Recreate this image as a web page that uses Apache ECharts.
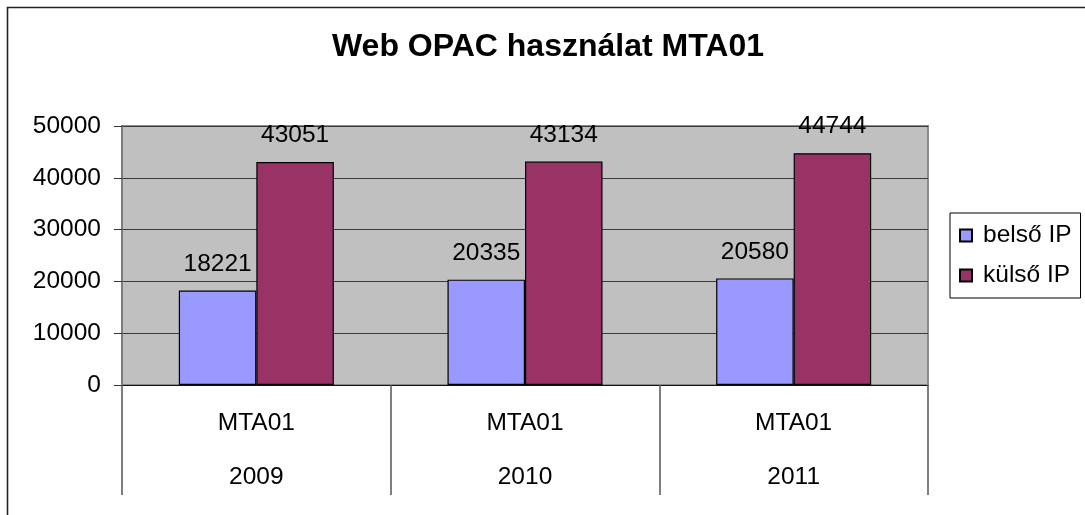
<!DOCTYPE html>
<html>
<head>
<meta charset="utf-8">
<script src="https://cdn.jsdelivr.net/npm/echarts@6/dist/echarts.min.js"></script>
<style>html,body{margin:0;padding:0;background:#fff}#c{width:1085px;height:515px}</style>
</head>
<body>
<div id="c"></div>
<script>
const titleText = 'Web OPAC használat MTA01';
const groupLabels = ['MTA01', 'MTA01', 'MTA01'];
const years = ['2009', '2010', '2011'];
const seriesNames = ['belső IP', 'külső IP'];
const belsoValues = [18221, 20335, 20580];
const kulsoValues = [43051, 43134, 44744];
const yTicks = [0, 10000, 20000, 30000, 40000, 50000];

const FONT = '"Liberation Sans", Arial, sans-serif';
const FS = 24.5;
const categories = years.map((y, i) => groupLabels[i] + '\n' + y);

const chart = echarts.init(document.getElementById('c'), null, {renderer: 'canvas'});
const labelCfg = {show: true, position: 'top', distance: 14, color: '#000', fontSize: FS, fontFamily: FONT};
chart.setOption({
  animation: false,
  backgroundColor: '#fff',
  textStyle: {fontFamily: FONT},
  title: {
    text: titleText,
    left: 548, top: 31, textAlign: 'center', padding: 0,
    textStyle: {fontSize: 32, fontWeight: 'bold', color: '#000', fontFamily: FONT}
  },
  graphic: [{
    type: 'rect', z: -1,
    shape: {x: 7.5, y: 7.5, width: 1300, height: 700},
    style: {fill: 'none', stroke: '#222', lineWidth: 1.6}
  }],
  legend: {
    orient: 'vertical',
    left: 950, top: 213,
    padding: [10, 9, 10, 9],
    itemGap: 15, itemWidth: 12, itemHeight: 12,
    icon: 'rect',
    borderColor: '#000', borderWidth: 1,
    data: seriesNames,
    textStyle: {fontSize: FS, color: '#000', fontFamily: FONT, padding: [0, 0, 0, 6]}
  },
  grid: {
    left: 122, right: 157, top: 126, bottom: 130,
    show: true, backgroundColor: '#C0C0C0', borderColor: '#8a8a8a', borderWidth: 2,
    containLabel: false
  },
  xAxis: {
    type: 'category',
    data: categories,
    axisLine: {show: true, lineStyle: {color: '#111', width: 1}},
    axisTick: {show: true, length: 110, lineStyle: {color: '#555', width: 1.5}},
    axisLabel: {color: '#000', fontSize: FS, fontFamily: FONT, lineHeight: 54, margin: 11}
  },
  yAxis: {
    type: 'value', min: yTicks[0], max: yTicks[yTicks.length - 1], interval: yTicks[1] - yTicks[0],
    axisLine: {show: true, lineStyle: {color: '#777', width: 1.5}},
    axisTick: {show: true, length: 8, lineStyle: {color: '#333'}},
    axisLabel: {color: '#000', fontSize: FS, fontFamily: FONT, margin: 21, formatter: v => String(v)},
    splitLine: {show: true, lineStyle: {color: '#3a3a3a', width: 1}}
  },
  series: [
    {name: seriesNames[0], type: 'bar', data: belsoValues, barGap: '0%', barCategoryGap: '42.3%',
     itemStyle: {color: '#9999FF', borderColor: '#000', borderWidth: 1.2}, label: labelCfg},
    {name: seriesNames[1], type: 'bar', data: kulsoValues, barGap: '0%', barCategoryGap: '42.3%',
     itemStyle: {color: '#993366', borderColor: '#000', borderWidth: 1.2}, label: labelCfg}
  ]
});
</script>
</body>
</html>
